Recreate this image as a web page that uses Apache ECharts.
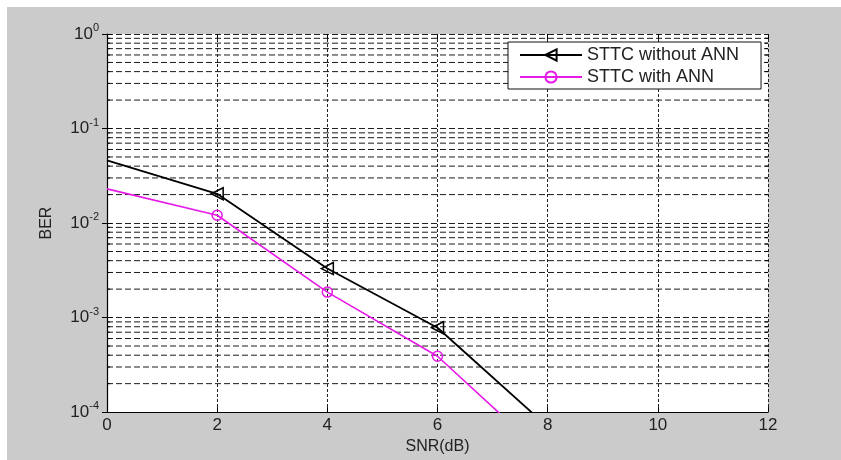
<!DOCTYPE html>
<html>
<head>
<meta charset="utf-8">
<script src="https://cdn.jsdelivr.net/npm/echarts@6/dist/echarts.min.js"></script>
<style>
html,body{margin:0;padding:0;background:#fff;}
#c{width:841px;height:460px;}
</style>
</head>
<body>
<div id="c"></div>
<script>
const snr = [0, 2, 4, 6, 8];
const berWithoutANN = [0.046, 0.0204, 0.0033, 0.00078, 0.00007];
const berWithANN = [0.023, 0.0121, 0.00186, 0.00039, 0.000033];
const seriesNames = ['STTC without ANN', 'STTC with ANN'];
const xTicks = [0, 2, 4, 6, 8, 10, 12];
const decades = [1e-4, 1e-3, 1e-2, 1e-1, 1];
const minorMultipliers = [2, 3, 4, 5, 6, 7, 8, 9];

const minorVals = [];
decades.slice(0, -1).forEach(d => minorMultipliers.forEach(m => minorVals.push(d * m)));

const FONT = '"Liberation Sans", Arial, sans-serif';
const chart = echarts.init(document.getElementById('c'), null, {renderer: 'canvas'});

const yLog = {
  type: 'log', logBase: 10, min: 1e-4, max: 1, interval: 1
};

function toPoints(ys) {
  return snr.map((x, i) => x === 0 ? {value: [x, ys[i]], symbol: 'none'} : [x, ys[i]]);
}

chart.setOption({
  animation: false,
  backgroundColor: '#fff',
  graphic: [{
    type: 'rect', z: -100, silent: true,
    shape: {x: 7, y: 7, width: 834, height: 453},
    style: {fill: '#cbcbcb'}
  }],
  grid: {left: 107, top: 34, width: 661, height: 381, show: true, backgroundColor: '#fff', borderWidth: 0},
  legend: {
    left: 508, top: 42, orient: 'vertical',
    backgroundColor: '#fff', borderColor: '#111', borderWidth: 1, borderRadius: 0,
    padding: [4, 22, 3, 11],
    itemWidth: 62, itemHeight: 14, itemGap: 4,
    textStyle: {fontFamily: FONT, fontSize: 18, color: '#222', lineHeight: 18},
    data: seriesNames
  },
  xAxis: [{
    type: 'value', min: 0, max: 12, interval: 2,
    name: 'SNR(dB)', nameLocation: 'middle', nameGap: 24,
    nameTextStyle: {fontFamily: FONT, fontSize: 16, color: '#222'},
    axisLine: {show: true, onZero: false, lineStyle: {color: '#000', width: 1.2}},
    axisTick: {show: true, inside: true, length: 5, lineStyle: {color: '#000'}},
    axisLabel: {fontFamily: FONT, fontSize: 17, color: '#222', margin: 5,
      formatter: v => xTicks.includes(v) ? String(v) : ''},
    splitLine: {show: true, lineStyle: {color: '#222', type: [3, 2], width: 1}}
  }, {
    type: 'value', min: 0, max: 12, interval: 2, position: 'top',
    axisLine: {show: false},
    axisTick: {show: true, inside: true, length: 5, lineStyle: {color: '#000'}},
    axisLabel: {show: false}, splitLine: {show: false}
  }],
  yAxis: [Object.assign({}, yLog, {
    name: 'BER', nameLocation: 'middle', nameGap: 52, nameRotate: 90,
    nameTextStyle: {fontFamily: FONT, fontSize: 16, color: '#222'},
    axisLine: {show: true, onZero: false, lineStyle: {color: '#000', width: 1.2}},
    axisTick: {show: true, inside: true, length: 5, lineStyle: {color: '#000'}},
    axisLabel: {
      margin: 8,
      formatter: v => '{b|10}{s|' + Math.round(Math.log10(v)) + '}',
      rich: {
        b: {fontFamily: FONT, fontSize: 17, color: '#222'},
        s: {fontFamily: FONT, fontSize: 11, color: '#222', verticalAlign: 'top', padding: [0, 0, 12, 0]}
      }
    },
    splitLine: {show: true, lineStyle: {color: '#222', type: [6, 3], width: 1}}
  }), Object.assign({}, yLog, {
    position: 'right',
    axisLine: {show: false},
    axisTick: {show: true, inside: true, length: 5, lineStyle: {color: '#000'}},
    axisLabel: {show: false}, splitLine: {show: false}
  })],
  series: [{
    type: 'custom', silent: true, z: 1,
    xAxisIndex: 0, yAxisIndex: 0,
    data: minorVals.map(v => [0, v]),
    renderItem: function (params, api) {
      const v = api.value(1);
      const p0 = api.coord([0, v]);
      const p1 = api.coord([12, v]);
      return {
        type: 'group',
        children: [{
          type: 'line',
          shape: {x1: p0[0], y1: p0[1], x2: p1[0], y2: p1[1]},
          style: {stroke: '#1a1a1a', lineWidth: 1, lineDash: [6, 3]}
        }, {
          type: 'line',
          shape: {x1: p0[0], y1: p0[1], x2: p0[0] + 3, y2: p0[1]},
          style: {stroke: '#000', lineWidth: 1}
        }, {
          type: 'line',
          shape: {x1: p1[0] - 3, y1: p1[1], x2: p1[0], y2: p1[1]},
          style: {stroke: '#000', lineWidth: 1}
        }]
      };
    }
  }, {
    name: seriesNames[0], type: 'line', z: 5, clip: true,
    data: toPoints(berWithoutANN),
    symbol: 'triangle', symbolSize: 12, symbolRotate: 90,
    lineStyle: {color: '#000', width: 1.8},
    itemStyle: {color: 'rgba(255,255,255,0)', borderColor: '#000', borderWidth: 1.5}
  }, {
    name: seriesNames[1], type: 'line', z: 5, clip: true,
    data: toPoints(berWithANN),
    symbol: 'circle', symbolSize: 10,
    lineStyle: {color: '#e619e6', width: 1.6},
    itemStyle: {color: 'rgba(255,255,255,0)', borderColor: '#e619e6', borderWidth: 1.5}
  }]
});
</script>
</body>
</html>
